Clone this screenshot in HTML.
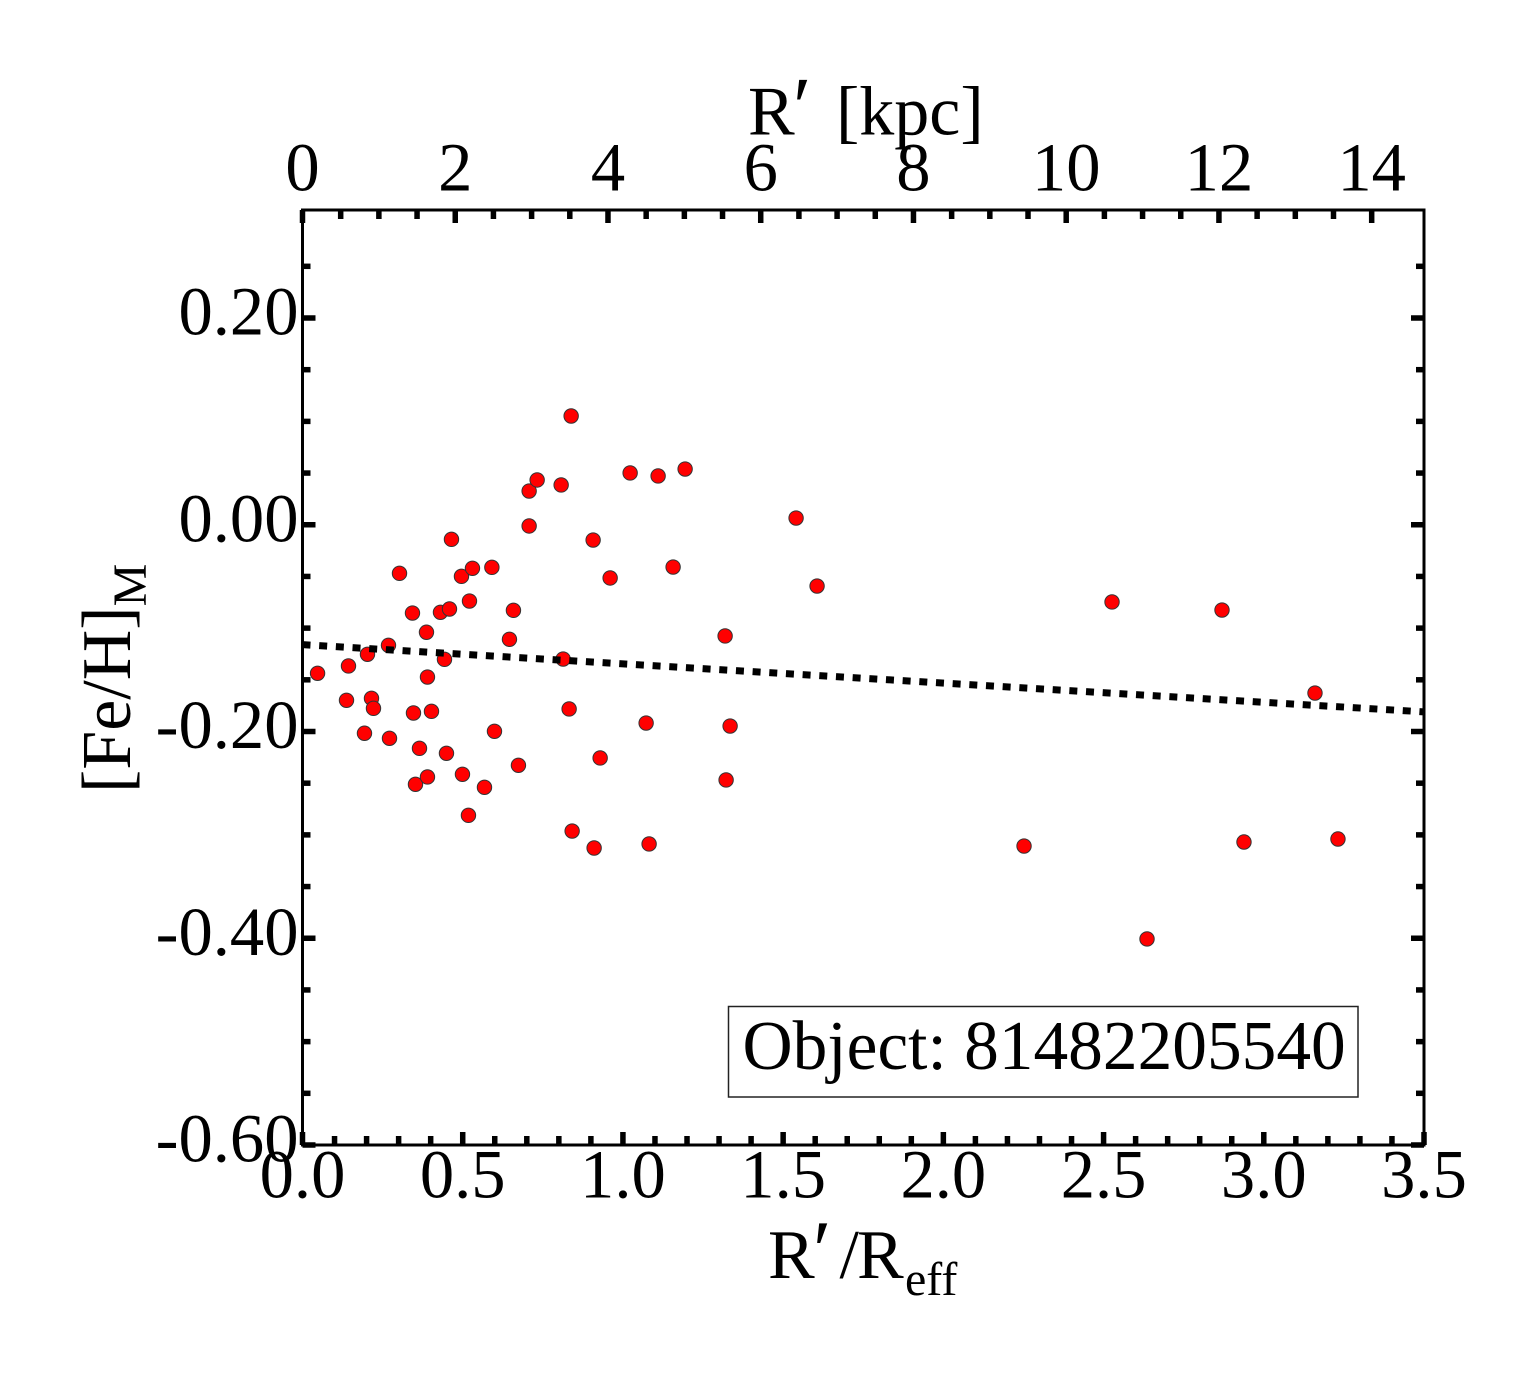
<!DOCTYPE html>
<html>
<head>
<meta charset="utf-8">
<title>[Fe/H] vs radius</title>
<style>
html,body{margin:0;padding:0;background:#fff;width:1540px;height:1375px;overflow:hidden}
svg{display:block}
text{font-family:"Liberation Serif",serif;fill:#000}
</style>
</head>
<body>
<svg id="chart" xmlns="http://www.w3.org/2000/svg" width="1540" height="1375" viewBox="0 0 1540 1375">
  <rect x="0" y="0" width="1540" height="1375" fill="#fff"/>
  <g id="points"></g>
  <g id="fit"></g>
  <g id="ticks"></g>
  <rect x="302.5" y="210" width="1121.5" height="935" fill="none" stroke="#000" stroke-width="3"/>
  <g id="labels" font-size="68.6"></g>
  <text y="134.5" font-size="70"><tspan x="748">R</tspan><tspan x="793" font-size="84">′</tspan><tspan x="836" font-size="70">[kpc]</tspan></text>
  <text y="1278" font-size="70"><tspan x="768">R</tspan><tspan x="813" font-size="84">′</tspan><tspan x="839.5" font-size="70">/</tspan><tspan x="857">R</tspan><tspan x="905" y="1295" font-size="48">eff</tspan></text>
  <text transform="translate(130,793) rotate(-90)" font-size="70">[Fe/H]<tspan font-size="48" dy="16">M</tspan></text>
  <rect x="728.5" y="1006.5" width="629.5" height="90.5" fill="#fff" stroke="#222" stroke-width="1.5"/>
  <text x="742.5" y="1069" font-size="69.4">Object: 81482205540</text>
</svg>
<script>
const rValues = [0.047,0.1435,0.1373,0.2028,0.2153,0.2215,0.1934,0.2715,0.2683,0.3027,0.3432,0.3463,0.3869,0.39,0.4025,0.3526,0.3651,0.39,0.4306,0.4587,0.4431,0.4493,0.4649,0.4961,0.5304,0.5211,0.591,0.4992,0.5679,0.5179,0.5991,0.6459,0.6583,0.6739,0.7073,0.7073,0.7323,0.8072,0.8134,0.8321,0.8384,0.8415,0.907,0.9101,0.9289,0.9601,1.0225,1.0724,1.0817,1.1098,1.1566,1.1941,1.3189,1.322,1.3345,1.5404,1.6059,2.2518,2.5264,2.6356,2.8696,2.9382,3.1598,3.2315];
const feValues = [-0.1437,-0.1366,-0.1698,-0.1253,-0.1679,-0.1776,-0.2017,-0.2066,-0.1166,-0.047,-0.0854,-0.1821,-0.104,-0.1473,-0.1805,-0.2511,-0.2163,-0.244,-0.0847,-0.0815,-0.1302,-0.2211,-0.0141,-0.0499,-0.0421,-0.0738,-0.0412,-0.2414,-0.254,-0.2811,-0.1998,-0.1108,-0.0828,-0.2327,-0.0012,0.0326,0.0433,0.0385,-0.1299,-0.1782,0.1052,-0.2963,-0.0148,-0.3127,-0.2256,-0.0515,0.0501,-0.1918,-0.3088,0.0472,-0.0409,0.0539,-0.1076,-0.2469,-0.1947,0.0065,-0.0593,-0.3108,-0.0747,-0.4007,-0.0825,-0.3069,-0.1628,-0.304];
const fitR = [0, 3.5];
const fitFe = [-0.116, -0.181];
const bottomTicks = [0.0,0.5,1.0,1.5,2.0,2.5,3.0,3.5];
const bottomTickLabels = ["0.0","0.5","1.0","1.5","2.0","2.5","3.0","3.5"];
const topTicks = [0,2,4,6,8,10,12,14];
const topTickLabels = ["0","2","4","6","8","10","12","14"];
const yTicks = [0.2,0,-0.2,-0.4,-0.6];
const yTickLabels = ["0.20","0.00","-0.20","-0.40","-0.60"];

const NS = 'http://www.w3.org/2000/svg';
const plotLeft = 302.5, plotRight = 1424, plotTop = 210, plotBottom = 1145;
const xScale = v => plotLeft + (v - 0) * (plotRight - plotLeft) / 3.5;
const topScale = v => plotLeft + v * 76.37;
const yScale = v => plotBottom - (v + 0.6) * 1033.75;
const make = (tag, attrs, parent) => {
  const el = document.createElementNS(NS, tag);
  for (const k in attrs) el.setAttribute(k, attrs[k]);
  parent.appendChild(el);
  return el;
};

const pointsG = document.getElementById('points');
rValues.forEach((r, i) => {
  const c = make('circle', {cx: xScale(r), cy: yScale(feValues[i]), r: 7.2, fill: '#ff0000', stroke: '#333', 'stroke-width': 1}, pointsG);
  
  
});

const fitG = document.getElementById('fit');
const fitLine = make('line', {x1: xScale(fitR[0]), y1: yScale(fitFe[0]), x2: xScale(fitR[1]), y2: yScale(fitFe[1]), stroke: '#000', 'stroke-width': 7, 'stroke-dasharray': '8 8.7'}, fitG);



const ticksG = document.getElementById('ticks');
const hTick = (x, y1, y2, w) => {
  const t = make('line', {x1: x, x2: x, y1: y1, y2: y2, stroke: '#000', 'stroke-width': w}, ticksG);
  
  
};
const vTick = (y, x1, x2, w) => {
  const t = make('line', {x1: x1, x2: x2, y1: y, y2: y, stroke: '#000', 'stroke-width': w}, ticksG);
  
  
};
for (let i = 0; i <= 35; i++) {
  const major = i % 5 === 0;
  hTick(xScale(i / 10), plotBottom, plotBottom - (major ? 13 : 9), 5.5);
}
for (let i = 0; i <= 28; i++) {
  const major = i % 4 === 0;
  hTick(topScale(i / 2), plotTop, plotTop + (major ? 13 : 9), 5.5);
}
for (let i = 0; i <= 17; i++) {
  const major = i % 4 === 0;
  const y = yScale(-0.6 + i * 0.05);
  vTick(y, plotLeft, plotLeft + (major ? 13 : 8), 5.5);
  vTick(y, plotRight, plotRight - (major ? 13 : 8), 5.5);
}

const labelsG = document.getElementById('labels');
bottomTicks.forEach((v, i) => {
  const t = make('text', {x: xScale(v), y: 1197.5, 'text-anchor': 'middle'}, labelsG);
  t.textContent = bottomTickLabels[i];
  
  
});
topTicks.forEach((v, i) => {
  const t = make('text', {x: topScale(v), y: 190.5, 'text-anchor': 'middle'}, labelsG);
  t.textContent = topTickLabels[i];
  
  
});
yTicks.forEach((v, i) => {
  const t = make('text', {x: 298.5, y: yScale(v) + 16.5, 'text-anchor': 'end'}, labelsG);
  t.textContent = yTickLabels[i];
  
  
});
</script>
</body>
</html>
